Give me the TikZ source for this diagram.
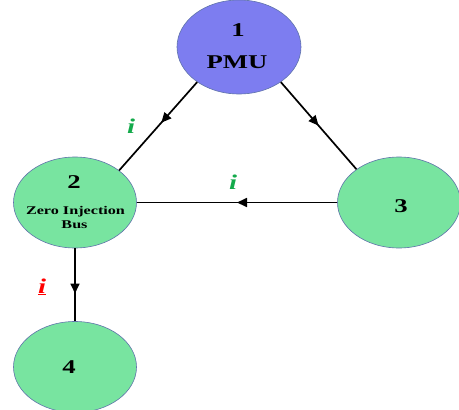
\documentclass[tikz,border=0pt]{standalone}
\usepackage{fontspec}
\setmainfont{Liberation Serif}[FakeStretch=1.37]
\usetikzlibrary{shapes.geometric,arrows.meta,decorations.markings}
\definecolor{pmublue}{RGB}{125,125,240}
\definecolor{busgreen}{RGB}{120,228,160}
\definecolor{rimcol}{RGB}{95,115,170}
\definecolor{curgreen}{RGB}{20,170,75}
\tikzset{
  busnode/.style={ellipse, draw=rimcol, line width=0.6pt, fill=busgreen,
    minimum width=123pt, minimum height=91pt, inner sep=0pt},
  pmunode/.style={busnode, fill=pmublue, minimum width=124pt, minimum height=94pt},
  bignum/.style={anchor=base, inner sep=0pt, font=\fontsize{19.5}{20}\selectfont\bfseries},
  smalltxt/.style={anchor=base, inner sep=0pt, font=\fontsize{11.8}{12}\selectfont\bfseries},
  curlabel/.style={anchor=base, inner sep=0pt, font=\fontsize{21}{22}\selectfont\bfseries\itshape},
  edge/.style={line width=1.7pt, black},
  midarrow/.style={postaction={decorate}, decoration={markings,
    mark=at position #1 with {\arrow{Triangle[length=10pt,width=9pt]}}}}
}
\begin{document}
\begin{tikzpicture}[x=1pt,y=-1pt]
\useasboundingbox (0,0) rectangle (459,410);
% buses
\node[pmunode] (n1) at (239,47) {};
\node[busnode] (n2) at (75,202.5) {};
\node[busnode] (n3) at (399,202.5) {};
\node[busnode] (n4) at (75,367) {};
% bus captions
\node[bignum] (n1num) at (238,36) {1};
\node[bignum] (n1name) at (237,68) {PMU};
\node[bignum] (n2num) at (74,188) {2};
\node[smalltxt] (n2name) at (75.5,214) {Zero Injection};
\node[smalltxt] (n2name2) at (74.5,228) {Bus};
\node[bignum] (n3num) at (401,212) {3};
\node[bignum] (n4num) at (69,373) {4};
% branches with current directions
\draw[edge, midarrow=0.46] (n1.220) -- (n2.36);
\draw[edge, midarrow=0.50] (n1.320) -- (n3.142);
\draw[edge, midarrow=0.50] (n3.west) -- (n2.east);
\draw[edge, midarrow=0.62] (n2.south) -- (n4.north);
% current labels
\node[curlabel, text=curgreen] (i12) at (131,133) {i};
\node[curlabel, text=curgreen] (i32) at (233,189) {i};
\node[curlabel, text=red] (i24) at (42,293) {\underline{i}};
\end{tikzpicture}
\end{document}
